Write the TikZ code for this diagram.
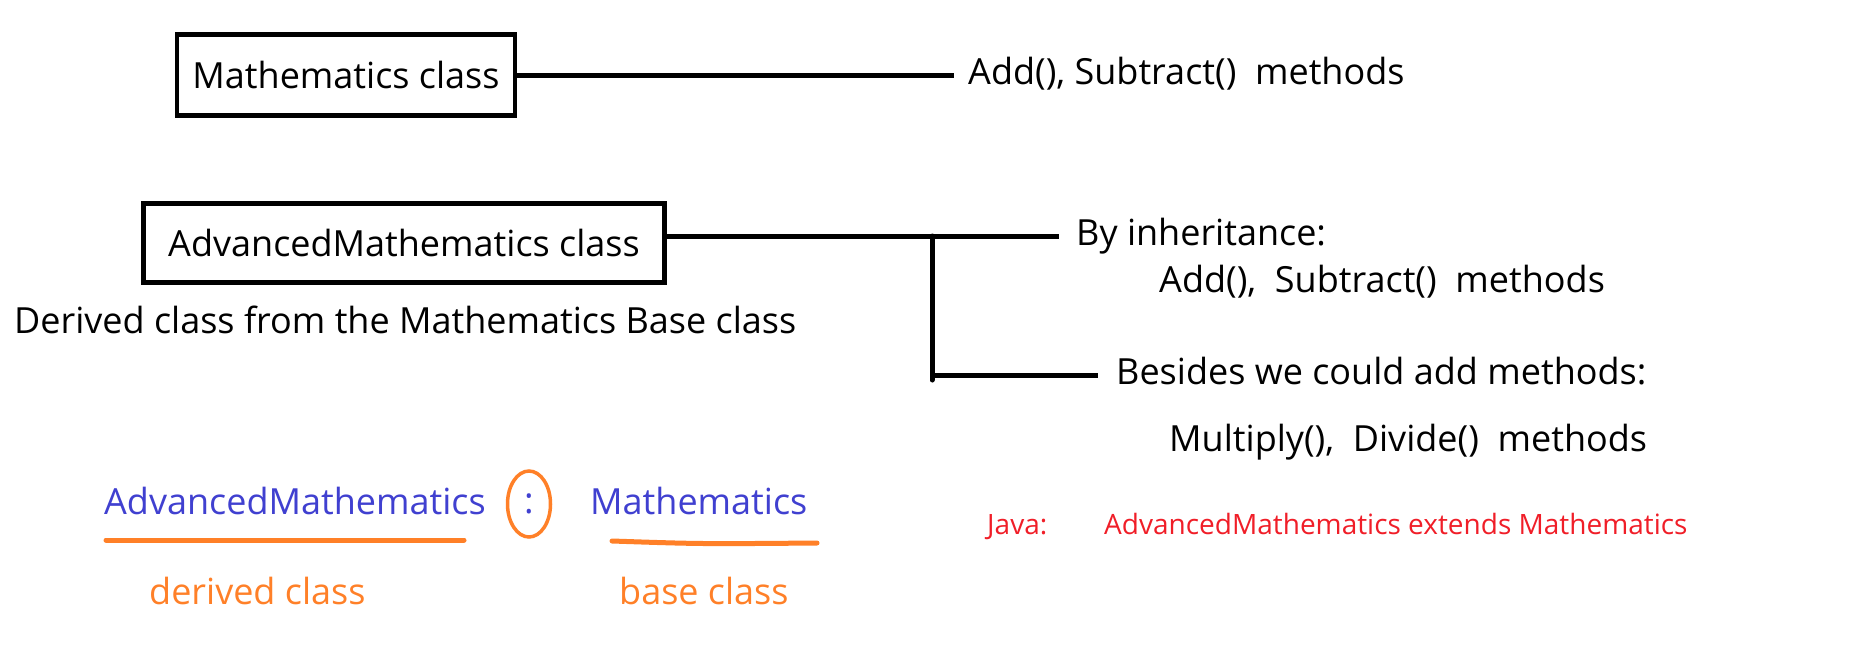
\documentclass[tikz,border=0pt]{standalone}
\usepackage{fontspec}
\setmainfont{Open Sans}
\usetikzlibrary{shapes,positioning}
\definecolor{blueish}{RGB}{64,64,208}
\definecolor{orangeish}{RGB}{255,128,40}
\definecolor{redish}{RGB}{240,30,40}

\begin{document}
\begin{tikzpicture}[x=1pt,y=-1pt,
    txt/.style={inner sep=0pt, anchor=base west, font=\fontsize{36}{42}\selectfont},
    classbox/.style={draw, line width=4.5pt, inner sep=0pt, font=\fontsize{36}{42}\selectfont},
    link/.style={line width=5pt},
    uline/.style={draw=orangeish, line width=5pt, line cap=round}]
      \useasboundingbox (0,0) rectangle (1852,656);
      % top part
      \node[classbox, minimum width=338pt, minimum height=81pt] (base) at (346,75) {Mathematics class};
      \node[txt] (basemeth) at (968,84) {Add(), Subtract()\ \ methods};
      \draw[link, shorten >=14pt] (base.east) -- (base.east -| basemeth.west);
      % derived class
      \node[classbox, minimum width=521pt, minimum height=79pt] (derived) at (404,243) {AdvancedMathematics class};
      \node[txt] (derivednote) at (14,333) {Derived class from the Mathematics Base class};
      \node[txt] (inherit) at (1076,245) {By inheritance:};
      \node[txt] (inheritmeth) at (1159,292) {Add(),\ \ Subtract()\ \ methods};
      \node[txt] (besides) at (1116,384) {Besides we could add methods:};
      \node[txt] (newmeth) at (1169,451) {Multiply(),\ \ Divide()\ \ methods};
      \coordinate (fork) at (932,236);
      \coordinate (forkend) at (932,380);
      \draw[link] ([yshift=7pt]derived.east) -- (fork);
      \draw[link, shorten >=17pt] (fork) -- (fork -| inherit.west);
      \draw[link, line cap=round] (fork) -- (forkend);
      \draw[link, shorten >=18pt] (932,375) -- (932,375 -| besides.west);
      % syntax
      \node[txt, text=blueish] (derivedname) at (104,514) {AdvancedMathematics};
      \node[ellipse, draw=orangeish, line width=3.5pt, minimum width=43pt, minimum height=66pt, inner sep=0pt,
            text=blueish, font=\fontsize{36}{42}\selectfont] (colon) at (529,504) {:};
      \node[txt, text=blueish] (basename) at (590,514) {Mathematics};
      \draw[uline] (106,540) -- (464,540);
      \draw[uline] (612,541) .. controls (700,544) .. (817,543);
      \node[txt, text=orangeish] (derivedlbl) at (149,604) {derived class};
      \node[txt, text=orangeish] (baselbl) at (619,604) {base class};
      % java
      \node[txt, text=redish, font=\fontsize{28}{32}\selectfont] (java) at (987,534) {Java:};
      \node[txt, text=redish, font=\fontsize{28}{32}\selectfont] (javaext) at (1104,534) {AdvancedMathematics extends Mathematics};
\end{tikzpicture}
\end{document}
